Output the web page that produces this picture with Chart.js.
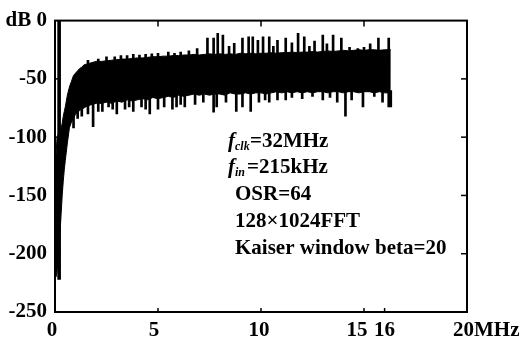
<!DOCTYPE html>
<html>
<head>
<meta charset="utf-8">
<script src="https://cdn.jsdelivr.net/npm/chart.js"></script>
<style>
    html, body { margin: 0; padding: 0; background: #fff; }
    #wrap { width: 525px; height: 341px; }
</style>
</head>
<body>
<div id="wrap"><canvas id="spectrumChart" width="525" height="341"></canvas></div>
<script>
// Output spectrum (MHz / dB)
const freqs = [0, 0.05, 0.1, 0.15, 0.2, 0.25, 0.3, 0.35, 0.4, 0.45, 0.5, 0.6, 0.7, 0.8, 0.9,
    1.0, 1.1, 1.2, 1.3, 1.4, 1.5, 1.6, 1.8, 2.0, 2.25, 2.5, 2.75, 3.0, 3.25, 3.5, 3.75,
    4.0, 4.25, 4.5, 4.75, 5.0, 5.25, 5.5, 5.75, 6.0, 6.25, 6.5, 6.75, 7.0, 7.25, 7.5, 7.75,
    8.0, 8.25, 8.5, 8.75, 9.0, 9.25, 9.5, 9.75, 10.0, 10.25, 10.5, 10.75, 11.0, 11.25, 11.5, 11.75,
    12.0, 12.25, 12.5, 12.75, 13.0, 13.25, 13.5, 13.75, 14.0, 14.25, 14.5, 14.75, 15.0, 15.25,
    15.5, 15.75, 16.0, 16.3];
const bodyTop = [-150, -115, -100, -98, -96, -94, -92, -88, -82, -78, -74, -64, -57, -52, -47,
    -45, -43, -41, -40, -38, -37.5, -37, -36, -35, -35, -34.5, -34, -33.5, -33, -33, -32.5,
    -32, -32, -31.5, -31, -31, -30.5, -30.5, -30, -30, -29.5, -29.5, -29, -29.5, -29, -28.5, -29,
    -28.5, -29, -28.5, -29, -28, -28.5, -28, -28.5, -28, -28, -27.5, -28, -27.5, -27.5, -27, -27.5,
    -27, -27, -26.5, -27, -26.5, -26, -26.5, -26, -25.5, -26, -25.5, -25, -25.5, -25,
    -25, -25.5, -25, -25];
const bodyBottom = [-220, -220, -215, -205, -190, -180, -165, -150, -138, -128, -120, -105, -92, -87, -84,
    -80, -79, -77, -76, -75, -74, -73, -72, -71, -71, -70, -71, -69, -70, -68, -69,
    -68, -67, -68, -66, -67, -66, -65, -66, -64, -65, -64, -63, -64, -63, -64, -63,
    -63, -64, -62, -63, -63, -62, -63, -62, -62, -63, -62, -61, -62, -61, -62, -61,
    -62, -61, -62, -61, -61, -62, -61, -61, -62, -61, -61, -62, -61, -61,
    -62, -61, -62, -62];

// Narrow peaks above the noise body
const spikeUpFreq = [1.6, 2.1, 2.5, 2.9, 3.2, 3.5, 3.8, 4.1, 4.4, 4.7, 5.0, 5.5, 5.8, 6.1, 6.5, 6.9,
    7.4, 7.7, 7.9, 8.15, 8.45, 8.7, 9.1, 9.4, 9.6, 9.85, 10.1, 10.4, 10.6, 10.8, 11.2, 11.5,
    11.8, 12.1, 12.35, 12.6, 13.0, 13.2, 13.5, 13.9, 14.3, 14.7, 15.0, 15.3, 15.7, 16.2];
const spikeUpPeak = [-34, -33, -31, -31, -30, -30, -29, -29.5, -29, -28.5, -28, -27, -28, -27, -26, -24,
    -15, -15, -11, -12.5, -22, -19.5, -15, -14, -14, -17, -14, -14, -22, -17, -15, -19,
    -11, -14, -22, -17.5, -12.5, -20, -12.5, -15, -23, -24, -23, -20, -15, -15];
// Narrow dips below the noise body
const spikeDownFreq = [0.9, 1.1, 1.3, 1.6, 1.85, 2.1, 2.3, 2.6, 2.8, 3.0, 3.4, 3.6, 3.8, 4.2, 4.4,
    4.6, 5.0, 5.3, 5.7, 5.9, 6.1, 6.3, 6.8, 7.2, 7.7, 7.85, 8.3, 8.8, 9.1, 9.5, 9.9, 10.2,
    10.4, 10.8, 11.2, 11.5, 12.0, 12.5, 13.0, 13.35, 13.7, 14.1, 14.4, 14.95, 15.5, 15.9, 16.2, 16.3];
const spikeDownDip = [-92, -84, -82, -80, -91, -78, -78, -74, -76, -80, -76, -74, -78, -74, -76,
    -80, -76, -74, -76, -74, -72, -74, -72, -70, -78.5, -74, -70, -78, -74, -78, -70, -68,
    -70, -68, -68, -66, -67, -65, -68, -66, -70, -82, -68, -74, -65, -70, -74, -74];

// Input tone at 215 kHz
const toneFreq = [0.2];
const toneRange = [[-222, 0]];

const yTicks = [0, -50, -100, -150, -200, -250];
const xTickValues = [0, 5, 10, 15, 16, 20];
const xTickLabels = ['0', '5', '10', '15', '16', '20MHz'];
const xLabelShift = [-3, -4, -2, -7, 0, -14];

const notes = ['OSR=64', '128\u00d71024FFT', 'Kaiser window beta=20'];

const FONT = '"Liberation Serif", "Times New Roman", serif';

function drawLine(ctx, x1, y1, x2, y2) {
    ctx.beginPath();
    ctx.moveTo(x1, y1);
    ctx.lineTo(x2, y2);
    ctx.stroke();
}

// frame, inward ticks, x labels and the parameter notes
const framePlugin = {
    id: 'frame',
    afterDatasetsDraw(chart) {
        const { ctx, chartArea: a, scales: { x, y } } = chart;
        ctx.save();
        ctx.strokeStyle = '#000';
        ctx.fillStyle = '#000';
        ctx.lineWidth = 2;
        ctx.strokeRect(a.left, a.top, a.right - a.left, a.bottom - a.top);

        ctx.lineWidth = 1.5;
        yTicks.forEach((v) => {
            if (v === 0 || v === -250) return;
            const py = y.getPixelForValue(v);
            drawLine(ctx, a.left, py, a.left + 6, py);
            drawLine(ctx, a.right, py, a.right - 6, py);
        });
        xTickValues.forEach((v) => {
            if (v === 0 || v === 20) return;
            const px = x.getPixelForValue(v);
            drawLine(ctx, px, a.bottom, px, a.bottom - 4);
            if (v !== 16) drawLine(ctx, px, a.top, px, a.top + 6);
        });

        ctx.font = 'bold 21px ' + FONT;
        ctx.textBaseline = 'alphabetic';
        xTickValues.forEach((v, i) => {
            const px = x.getPixelForValue(v) + xLabelShift[i];
            ctx.textAlign = i === xTickValues.length - 1 ? 'left' : 'center';
            ctx.fillText(xTickLabels[i], px, 336);
        });

        // f_clk and f_in lines with italic subscripts
        ctx.textAlign = 'left';
        const fx = 228;
        ctx.font = 'italic bold 21px ' + FONT;
        ctx.fillText('f', fx, 147);
        ctx.font = 'italic bold 12px ' + FONT;
        ctx.fillText('clk', fx + 7, 150);
        ctx.font = 'bold 21px ' + FONT;
        ctx.fillText('=32MHz', 250, 147);

        ctx.font = 'italic bold 21px ' + FONT;
        ctx.fillText('f', fx, 173);
        ctx.font = 'italic bold 12px ' + FONT;
        ctx.fillText('in', fx + 7, 176);
        ctx.font = 'bold 21px ' + FONT;
        ctx.fillText('=215kHz', 247, 173);

        notes.forEach((t, i) => {
            ctx.fillText(t, 235, 200 + i * 27);
        });
        ctx.restore();
    }
};

const ctx = document.getElementById('spectrumChart').getContext('2d');
new Chart(ctx, {
    type: 'bar',
    data: {
        datasets: [
            {
                type: 'line',
                data: freqs.map((f, i) => ({ x: f, y: bodyTop[i] })),
                borderColor: '#000',
                borderWidth: 1,
                backgroundColor: '#000',
                pointRadius: 0,
                tension: 0,
                fill: '+1'
            },
            {
                type: 'line',
                data: freqs.map((f, i) => ({ x: f, y: bodyBottom[i] })),
                borderColor: '#000',
                borderWidth: 1,
                pointRadius: 0,
                tension: 0,
                fill: false
            },
            {
                data: spikeUpFreq.map((f, i) => ({ x: f, y: [-40, spikeUpPeak[i]] })),
                backgroundColor: '#000',
                barThickness: 2,
                grouped: false
            },
            {
                data: spikeDownFreq.map((f, i) => ({ x: f, y: [spikeDownDip[i], -60] })),
                backgroundColor: '#000',
                barThickness: 2,
                grouped: false
            },
            {
                data: toneFreq.map((f, i) => ({ x: f, y: toneRange[i] })),
                backgroundColor: '#000',
                barThickness: 3,
                grouped: false
            }
        ]
    },
    options: {
        responsive: false,
        animation: false,
        devicePixelRatio: 1,
        layout: { padding: { top: 15, right: 58, left: 0, bottom: 0 } },
        plugins: {
            legend: { display: false },
            tooltip: { enabled: false }
        },
        scales: {
            x: {
                type: 'linear',
                min: 0,
                max: 20,
                offset: false,
                grid: { display: false, drawTicks: false },
                border: { display: false },
                ticks: { display: false },
                afterFit: (s) => { s.height = 29; }
            },
            y: {
                type: 'linear',
                min: -250,
                max: 0,
                grid: { display: false, drawTicks: false },
                border: { display: false },
                afterBuildTicks: (s) => { s.ticks = yTicks.map((v) => ({ value: v })); },
                ticks: {
                    color: '#000',
                    padding: 8,
                    font: { family: FONT, size: 21, weight: 'bold' },
                    callback: (v) => (v === 0 ? 'dB 0' : String(v))
                },
                afterFit: (s) => { s.width = 55; }
            }
        }
    },
    plugins: [framePlugin]
});
</script>
</body>
</html>
